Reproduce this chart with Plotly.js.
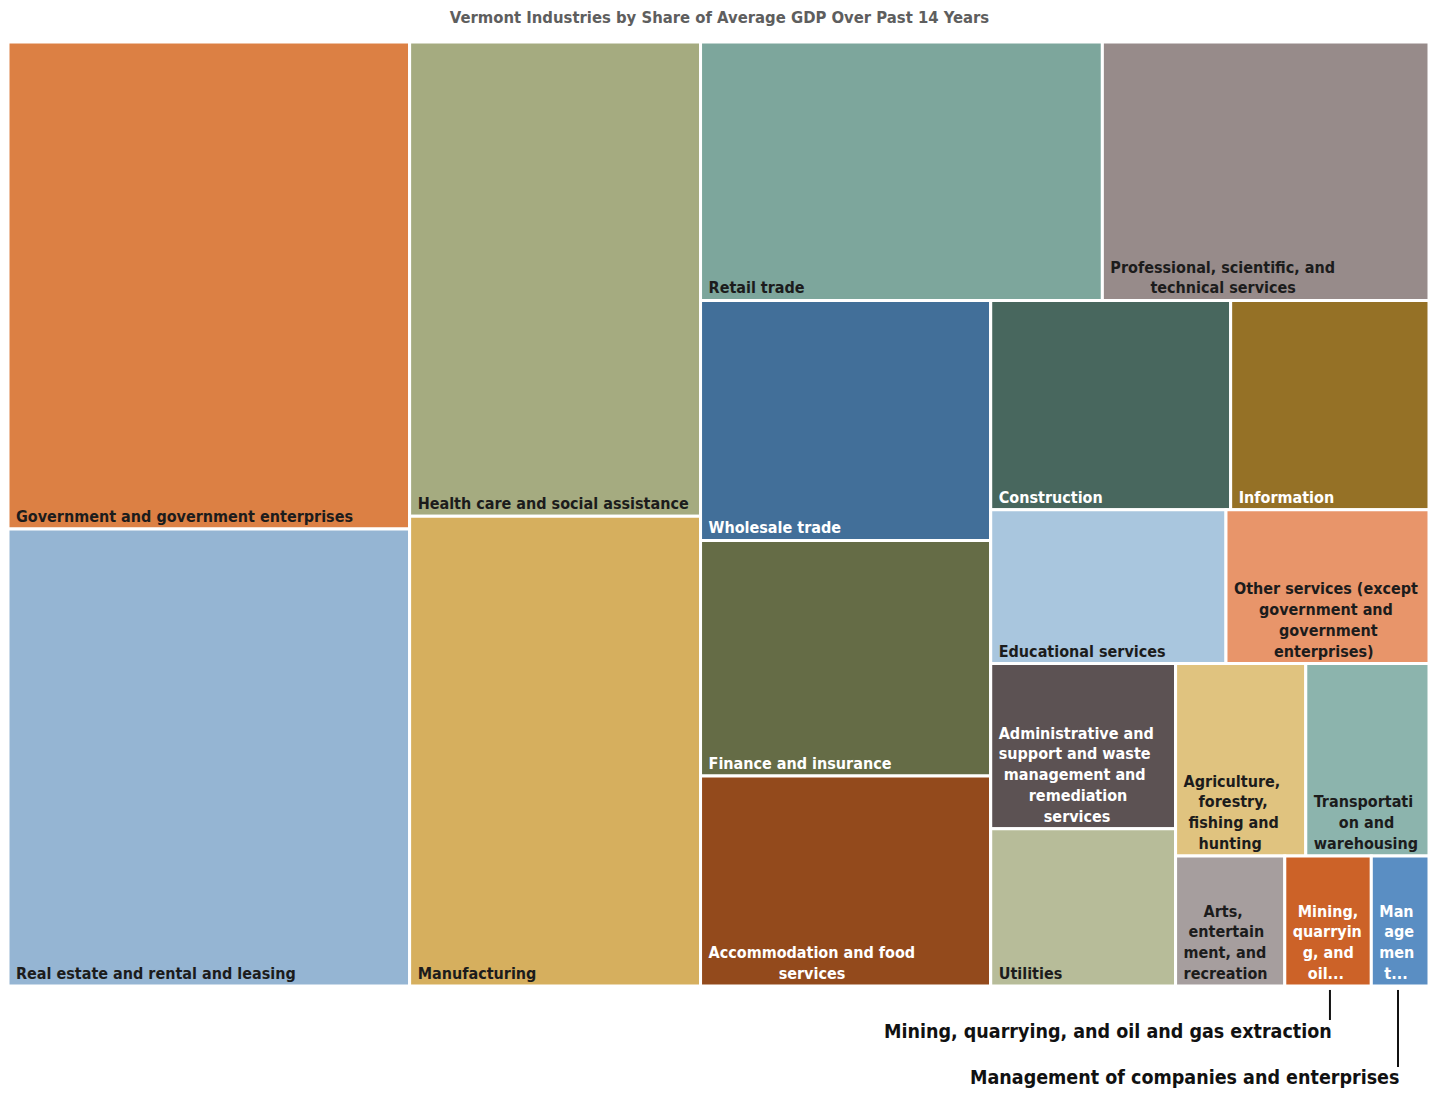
<!DOCTYPE html>
<html>
<head>
<meta charset="utf-8">
<script src="https://cdn.plot.ly/plotly-3.0.1.min.js"></script>
<style>html,body{margin:0;padding:0;background:#fff;}#chart{width:1439px;height:1093px;}</style>
</head>
<body>
<div id="chart"></div>
<script>
// ---- data ----
const industries = [
  "Government and government enterprises",
  "Real estate and rental and leasing",
  "Health care and social assistance",
  "Manufacturing",
  "Retail trade",
  "Professional, scientific, and technical services",
  "Wholesale trade",
  "Finance and insurance",
  "Accommodation and food services",
  "Construction",
  "Information",
  "Educational services",
  "Other services (except government and government enterprises)",
  "Administrative and support and waste management and remediation services",
  "Utilities",
  "Agriculture, forestry, fishing and hunting",
  "Transportation and warehousing",
  "Arts, entertainment, and recreation",
  "Mining, quarrying, and oil and gas extraction",
  "Management of companies and enterprises"
];
// share of average GDP (%), read from tile areas
const shares = [14.6, 13.7, 10.3, 10.2, 7.75, 6.3, 5.2, 5.1, 4.55, 3.75, 3.1, 2.7, 2.33, 2.28, 2.17, 1.87, 1.77, 1.06, 0.84, 0.56];
// wrapped text shown inside tiles (lines separated by <br>)
const tileLabels = [
  "Government and government enterprises",
  "Real estate and rental and leasing",
  "Health care and social assistance",
  "Manufacturing",
  "Retail trade",
  "Professional, scientific, and<br>technical services",
  "Wholesale trade",
  "Finance and insurance",
  "Accommodation and food<br>services",
  "Construction",
  "Information",
  "Educational services",
  "Other services (except<br>government and<br>government<br>enterprises)",
  "Administrative and<br>support and waste<br>management and<br>remediation<br>services",
  "Utilities",
  "Agriculture,<br>forestry,<br>fishing and<br>hunting",
  "Transportati<br>on and<br>warehousing",
  "Arts,<br>entertain<br>ment, and<br>recreation",
  "Mining,<br>quarryin<br>g, and<br>oil...",
  "Man<br>age<br>men<br>t..."
];
// invisible grouping nodes that reproduce the original tile arrangement
const groupIds     = ["root", "gA", "gB", "gR1", "gRP", "gR2", "gW", "gR3", "gCI", "gEO", "gR4", "gAU", "gR5", "gAT", "gAMM"];
const groupParents = ["",     "root", "root", "root", "gR1", "gR1", "gR2", "gR2", "gR3", "gR3", "gR3", "gR4", "gR4", "gR5", "gR5"];
const industryGroup = ["gA", "gA", "gB", "gB", "gRP", "gRP", "gW", "gW", "gW", "gCI", "gCI", "gEO", "gEO", "gAU", "gAU", "gAT", "gAT", "gAMM", "gAMM", "gAMM"];
const colors = ["#DC8044","#95B5D3","#A5AB80","#D6AF5E","#7DA69C","#978B8A","#426F99","#656C46","#934A1C","#48675E","#957126","#A9C6DE","#E8956A","#5C5253","#B7BC99","#E0C37F","#8CB4AD","#A69E9E","#CC6228","#5A8EC3"];
const textColors = ["#1c1c1c","#1c1c1c","#1c1c1c","#1c1c1c","#1c1c1c","#1c1c1c","#ffffff","#ffffff","#ffffff","#ffffff","#ffffff","#1c1c1c","#1c1c1c","#ffffff","#1c1c1c","#1c1c1c","#1c1c1c","#1c1c1c","#ffffff","#ffffff"];
const calloutNames = ["Mining, quarrying, and oil and gas extraction", "Management of companies and enterprises"];

// ---- helpers ----
const FONT = "'DejaVu Sans Condensed', 'Liberation Sans Narrow', sans-serif";
const LABEL_SIZE = 16;
const NBSP = '\u00A0';
const ctx = document.createElement('canvas').getContext('2d');
ctx.font = 'bold ' + LABEL_SIZE + 'px "DejaVu Sans Condensed", sans-serif';
const spaceW = ctx.measureText(NBSP).width || 5;
// centre the lines of a wrapped label relative to each other and add a small left inset
function formatLabel(label) {
  const lines = label.split('<br>');
  const widths = lines.map(l => ctx.measureText(l).width);
  const maxW = Math.max.apply(null, widths);
  return lines.map((l, i) => {
    const n = lines.length > 1 ? Math.round((maxW - widths[i]) / 2 / spaceW) : 0;
    return NBSP + NBSP.repeat(n) + l;
  }).join('<br>');
}

// ---- build trace ----
const ids = groupIds.concat(industries);
const parents = groupParents.concat(industryGroup);
const values = groupIds.map(() => 0).concat(shares);
const texts = groupIds.map(() => '').concat(tileLabels.map(formatLabel));
const fills = groupIds.map(() => '#ffffff').concat(colors);
const tcolors = groupIds.map(() => '#ffffff').concat(textColors);

const trace = {
  type: 'treemap',
  ids: ids,
  labels: ids,
  parents: parents,
  values: values,
  branchvalues: 'remainder',
  text: texts,
  texttemplate: '%{text}',
  textposition: 'bottom left',
  textfont: {family: FONT, size: LABEL_SIZE, color: tcolors, weight: 'bold'},
  marker: {colors: fills, line: {color: '#ffffff', width: 3}, pad: {t: 0, l: 0, r: 0, b: 0}},
  tiling: {packing: 'slice-dice', pad: 0},
  pathbar: {visible: false},
  sort: false,
  hoverinfo: 'label+value'
};

const layout = {
  width: 1439, height: 1093,
  margin: {l: 8, r: 10, t: 42, b: 107},
  paper_bgcolor: '#ffffff',
  title: {text: 'Vermont Industries by Share of Average GDP Over Past 14 Years',
          font: {family: FONT, size: 16.5, color: '#5e5e5e', weight: 'bold'},
          x: 0.5, xanchor: 'center', y: 0.984, yanchor: 'middle'},
  uniformtext: {mode: 'show', minsize: LABEL_SIZE},
  showlegend: false,
  annotations: [
    {text: calloutNames[0], xref: 'paper', yref: 'paper', x: 0.9331, y: -0.0487,
     xanchor: 'right', yanchor: 'middle', showarrow: false,
     font: {family: FONT, size: 19.5, color: '#111111', weight: 'bold'}},
    {text: calloutNames[1], xref: 'paper', yref: 'paper', x: 0.9803, y: -0.0964,
     xanchor: 'right', yanchor: 'middle', showarrow: false,
     font: {family: FONT, size: 19.5, color: '#111111', weight: 'bold'}}
  ],
  shapes: [
    {type: 'line', xref: 'paper', yref: 'paper', x0: 0.9303, x1: 0.9303, y0: -0.0042, y1: -0.0360,
     line: {color: '#111111', width: 2}},
    {type: 'line', xref: 'paper', yref: 'paper', x0: 0.9782, x1: 0.9782, y0: -0.0042, y1: -0.0858,
     line: {color: '#111111', width: 2}}
  ]
};

Plotly.newPlot('chart', [trace], layout, {displayModeBar: false});
</script>
</body>
</html>
